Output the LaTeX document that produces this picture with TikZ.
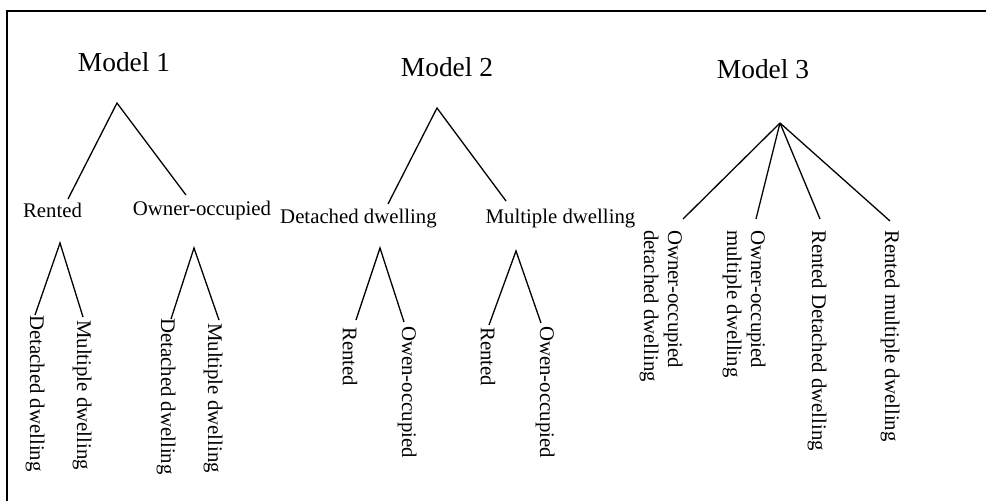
\documentclass[tikz,border=0pt]{standalone}
\usepackage{fontspec}
\setmainfont{Liberation Serif}
\tikzset{
  branch/.style={line width=1.3pt},
  modeltitle/.style={font=\fontsize{27.4}{33}\selectfont, inner sep=0pt, anchor=base},
  catlabel/.style={font=\fontsize{20.8}{24}\selectfont, inner sep=0pt, anchor=base},
  leaf/.style={font=\fontsize{20.8}{24}\selectfont, inner sep=0pt, rotate=-90,
    anchor=west, align=left},
}
\begin{document}
\begin{tikzpicture}[x=1pt, y=-1pt]
  \useasboundingbox (0,0) rectangle (986,501);
  % The frame, cut off on the right and at the bottom
  \draw [line width=2pt] (7,501) -- (7,11) -- (986,11);

  % Model 1: tenure first, then the type of dwelling
  \node [modeltitle] (m1) at (124,71) {Model 1};
  \coordinate (m1top) at (117,103);
  \coordinate (m1l) at (68,199);
  \coordinate (m1r) at (186,195);
  \draw [branch] (m1l) -- (m1top) -- (m1r);
  \node [catlabel] (m1rent) at (52.5,217) {Rented};
  \node [catlabel] (m1own) at (202,215) {Owner-occupied};
  \foreach \sub/\tx/\ty/\lx/\ly/\rx/\ry in {
      rent/60/243/35/315/83/317,
      own/194/248/171/319/219/320} {
    \coordinate (\sub top) at (\tx,\ty);
    \coordinate (\sub l) at (\lx,\ly);
    \coordinate (\sub r) at (\rx,\ry);
    \draw [branch] (\sub l) -- (\sub top) -- (\sub r);
  }
  \node [leaf] (m1rentdet) at (35,315) {Detached dwelling};
  \node [leaf] (m1rentmul) at (82,320) {Multiple dwelling};
  \node [leaf] (m1owndet) at (166,318) {Detached dwelling};
  \node [leaf] (m1ownmul) at (213,323) {Multiple dwelling};

  % Model 2: type of dwelling first, then tenure
  \node [modeltitle] (m2) at (447,76) {Model 2};
  \coordinate (m2top) at (437,108);
  \coordinate (m2l) at (388,204);
  \coordinate (m2r) at (506,201);
  \draw [branch] (m2l) -- (m2top) -- (m2r);
  \node [catlabel] (m2det) at (358.5,223) {Detached dwelling};
  \node [catlabel] (m2mul) at (560.5,223) {Multiple dwelling};
  \foreach \sub/\tx/\ty/\lx/\ly/\rx/\ry in {
      det/380/248/356/320/404/322,
      mul/516/251/489/325/541/323} {
    \coordinate (\sub top) at (\tx,\ty);
    \coordinate (\sub l) at (\lx,\ly);
    \coordinate (\sub r) at (\rx,\ry);
    \draw [branch] (\sub l) -- (\sub top) -- (\sub r);
  }
  \node [leaf] (m2detrent) at (350,327) {Rented};
  \node [leaf] (m2detown) at (407,326) {Owen-occupied};
  \node [leaf] (m2mulrent) at (488,327) {Rented};
  \node [leaf] (m2mulown) at (545,326) {Owen-occupied};

  % Model 3: the four combinations at once
  \node [modeltitle] (m3) at (763,78) {Model 3};
  \coordinate (m3top) at (780,123);
  \foreach \n/\bx/\by/\lx/\lab in {
      a/683/219/661/{Owner-occupied\\detached dwelling},
      b/756/219/744/{Owner-occupied\\multiple dwelling},
      c/820/219/817/{Rented Detached dwelling},
      d/890/221/890/{Rented multiple dwelling}} {
    \coordinate (m3\n) at (\bx,\by);
    \draw [branch] (m3top) -- (m3\n);
    \node [leaf] (m3leaf\n) at (\lx,230) {\lab};
  }
\end{tikzpicture}
\end{document}
